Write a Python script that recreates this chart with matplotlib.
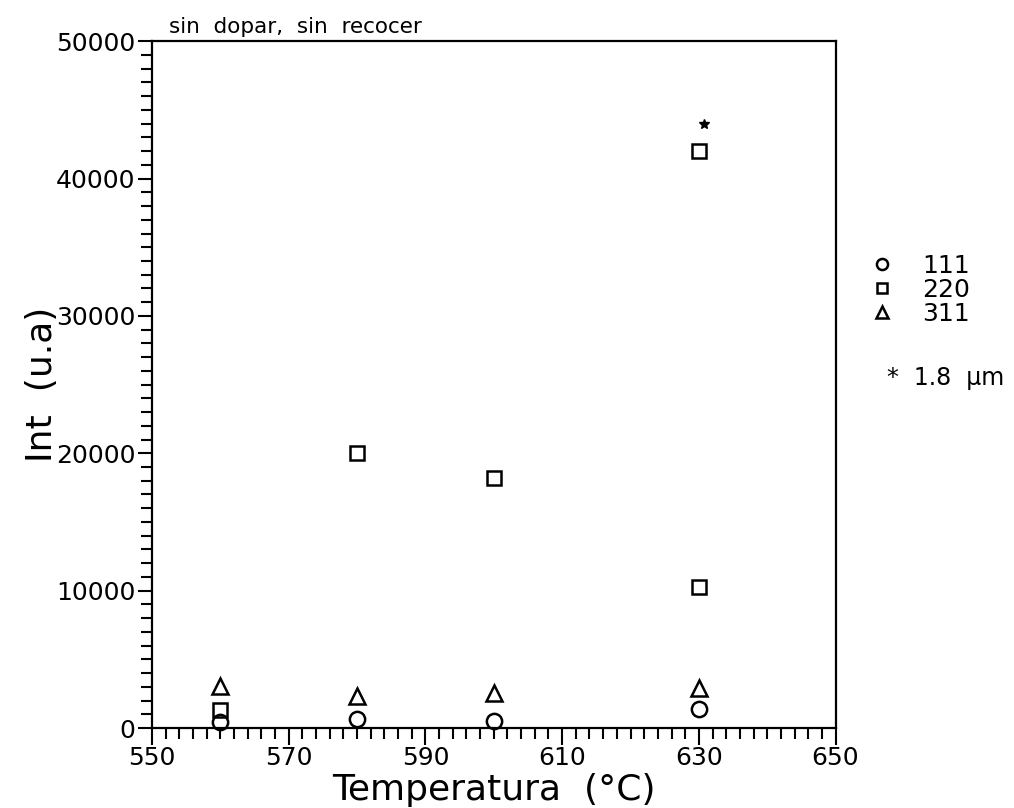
import matplotlib
matplotlib.use("Agg")
import matplotlib.pyplot as plt
from matplotlib.lines import Line2D
from matplotlib.ticker import MultipleLocator, FixedLocator

# temperaturas (°C) e intensidades (u.a) por pico
temp = [560, 580, 600, 630]
int_111 = [450, 650, 510, 1400]
int_220 = [1300, 20000, 18200, 10300]
int_311 = [3060, 2330, 2550, 2910]
# muestra de 1.8 um
temp_220_gruesa = [630]
int_220_gruesa = [42000]
temp_estrella = [630.8]
int_estrella = [44000]

x_ticks = [550, 570, 590, 610, 630, 650]

plt.rcParams["font.family"] = ["DejaVu Sans"]

fig = plt.figure(figsize=(10.14, 8.08), dpi=100)
ax = fig.add_axes([0.150, 0.099, 0.674, 0.850])

mk = dict(linestyle="none", markerfacecolor="none", markeredgecolor="black",
          markeredgewidth=1.8, clip_on=False)
ax.plot(temp, int_111, marker="o", markersize=11, **mk)
ax.plot(temp, int_220, marker="s", markersize=10, **mk)
ax.plot(temp_220_gruesa, int_220_gruesa, marker="s", markersize=10, **mk)
ax.plot(temp, int_311, marker="^", markersize=11, **mk)
ax.plot(temp_estrella, int_estrella, marker="*", markersize=7, linestyle="none",
        color="black", clip_on=False)

ax.set_xlim(550, 650)
ax.set_ylim(0, 50000)
ax.xaxis.set_major_locator(FixedLocator(x_ticks))
ax.xaxis.set_minor_locator(MultipleLocator(2))
ax.yaxis.set_major_locator(MultipleLocator(10000))
ax.yaxis.set_minor_locator(MultipleLocator(1000))
ax.tick_params(axis="x", which="major", direction="out", length=12, width=1.5,
               labelsize=18, pad=1)
ax.tick_params(axis="y", which="major", direction="out", length=10, width=1.5,
               labelsize=18, pad=2)
ax.tick_params(axis="both", which="minor", direction="out", length=8, width=1.5)
for s in ax.spines.values():
    s.set_linewidth(1.6)

ax.set_xlabel("Temperatura  (°C)", fontsize=26, labelpad=2)
ax.set_ylabel("Int  (u.a)", fontsize=26, labelpad=-2)
ax.text(0.025, 1.006, "sin  dopar,  sin  recocer", transform=ax.transAxes,
        fontsize=15.5, ha="left", va="bottom")

handles = [
    Line2D([], [], marker="o", markersize=8, **mk),
    Line2D([], [], marker="s", markersize=7, **mk),
    Line2D([], [], marker="^", markersize=8, **mk),
]
ax.legend(handles, ["111", "220", "311"], loc="upper left",
          bbox_to_anchor=(1.05, 0.69), frameon=False, fontsize=18,
          handlelength=1.0, handletextpad=1.1, labelspacing=0.0,
          borderaxespad=0, borderpad=0)
ax.text(1.075, 0.510, "*  1.8  μm", transform=ax.transAxes, fontsize=17,
        ha="left", va="center")

fig.savefig("out.png", dpi=100)
